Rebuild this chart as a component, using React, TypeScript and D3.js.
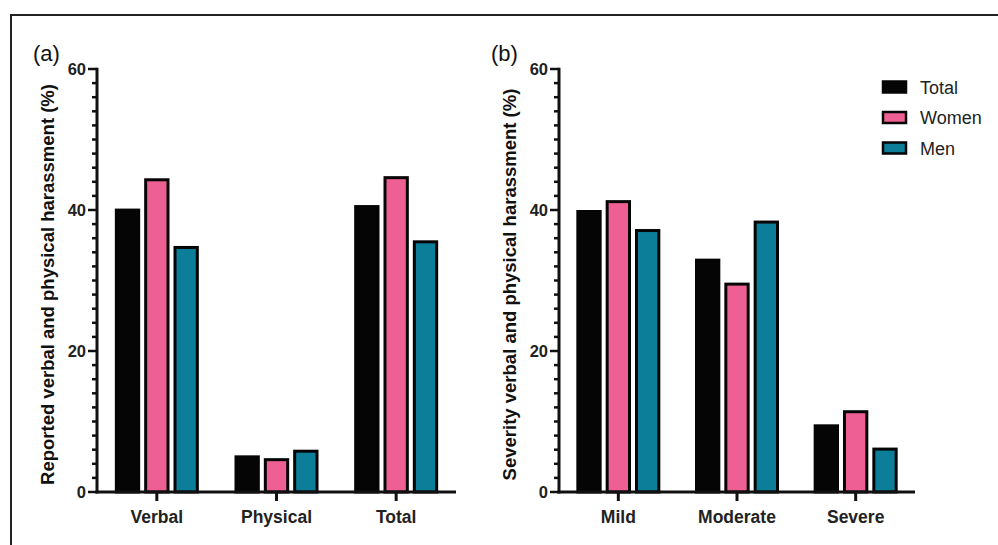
import * as d3 from "d3";

const series = ["Total", "Women", "Men"];
const seriesColors = ["#050505", "#ee6093", "#0c7e99"];

const typeCategories = ["Verbal", "Physical", "Total"];
const typeTotal = [40.2, 5.2, 40.7];
const typeWomen = [44.5, 4.8, 44.8];
const typeMen = [34.9, 6.0, 35.7];

const severityCategories = ["Mild", "Moderate", "Severe"];
const severityTotal = [40.0, 33.1, 9.6];
const severityWomen = [41.4, 29.7, 11.6];
const severityMen = [37.3, 38.5, 6.3];

const yMajorTicks = [0, 20, 40, 60];
const yMinorTicks = d3.range(0, 61, 2);

const width = 998;
const height = 545;
const font = "'Liberation Sans', Arial, Helvetica, sans-serif";

interface PanelProps {
  tag: string;
  title: string;
  categories: string[];
  values: number[][];
  x0: number;
  x1: number;
  tagX: number;
  titleX: number;
}

function Panel({ tag, title, categories, values, x0, x1, tagX, titleX }: PanelProps) {
  const yScale = d3.scaleLinear().domain([0, 60]).range([492, 69]);
  const xScale = d3.scaleBand<string>().domain(categories).range([x0, x1]).padding(0);
  const subScale = d3.scaleBand<string>().domain(series).range([-44, 44]).padding(0);
  const bw = subScale.bandwidth();
  const base = yScale(0);

  return (
    <g>
      <text x={tagX} y={61} fontSize={22} fontFamily={font} fill="#111">
        {tag}
      </text>
      <text
        transform={`translate(${titleX}, ${(yScale(0) + yScale(60)) / 2 + 4}) rotate(-90)`}
        textAnchor="middle"
        fontSize={18.5}
        fontWeight="bold"
        fontFamily={font}
        fill="#111"
      >
        {title}
      </text>

      {categories.map((cat, ci) => {
        const cx = (xScale(cat) ?? 0) + xScale.bandwidth() / 2;
        return (
          <g key={cat}>
            {series.map((s, si) => {
              const v = values[si][ci];
              const y = yScale(v);
              return (
                <rect
                  key={s}
                  x={cx + (subScale(s) ?? 0) + 3.5}
                  y={y + 1.5}
                  width={bw - 7}
                  height={base - y - 1.5}
                  fill={seriesColors[si]}
                  stroke="#050505"
                  strokeWidth={3}
                />
              );
            })}
            <line x1={cx} x2={cx} y1={base} y2={base + 9} stroke="#111" strokeWidth={3} />
            <text x={cx} y={523} textAnchor="middle" fontSize={17.5} fontWeight="bold" fontFamily={font} fill="#222">
              {cat}
            </text>
          </g>
        );
      })}

      {yMinorTicks.map((t) => (
        <line
          key={`m${t}`}
          x1={x0 - (t % 20 === 0 ? 9 : 5)}
          x2={x0}
          y1={yScale(t)}
          y2={yScale(t)}
          stroke="#111"
          strokeWidth={2.5}
        />
      ))}
      {yMajorTicks.map((t) => (
        <text
          key={`l${t}`}
          x={x0 - 11}
          y={yScale(t) + 6}
          textAnchor="end"
          fontSize={16.5}
          fontWeight="bold"
          fontFamily={font}
          fill="#222"
        >
          {t}
        </text>
      ))}
      <line x1={x0} x2={x0} y1={yScale(60) - 1.25} y2={base + 1.5} stroke="#111" strokeWidth={3} />
      <line x1={x0 - 1.5} x2={x1} y1={base} y2={base} stroke="#111" strokeWidth={3} />
    </g>
  );
}

export default function App() {
  return (
    <div style={{ position: "absolute", left: 0, top: 0 }}>
      <svg width={width} height={height} viewBox={`0 0 ${width} ${height}`} style={{ display: "block", background: "#fff" }}>
        <line x1={11} x2={width} y1={15} y2={15} stroke="#222" strokeWidth={2} />
        <line x1={11} x2={11} y1={14} y2={height} stroke="#222" strokeWidth={2} />

        <Panel
          tag="(a)"
          title="Reported verbal and physical harassment (%)"
          categories={typeCategories}
          values={[typeTotal, typeWomen, typeMen]}
          x0={97}
          x1={456}
          tagX={33}
          titleX={54}
        />
        <Panel
          tag="(b)"
          title="Severity verbal and physical harassment (%)"
          categories={severityCategories}
          values={[severityTotal, severityWomen, severityMen]}
          x0={559}
          x1={915}
          tagX={491}
          titleX={516}
        />

        {series.map((s, i) => (
          <g key={s} transform={`translate(883, ${87 + i * 30.5})`}>
            <rect x={0} y={-5.5} width={23} height={11} fill={seriesColors[i]} stroke="#050505" strokeWidth={2.5} />
            <text x={37} y={6.5} fontSize={18} fontFamily={font} fill="#222">
              {s}
            </text>
          </g>
        ))}
      </svg>
    </div>
  );
}
